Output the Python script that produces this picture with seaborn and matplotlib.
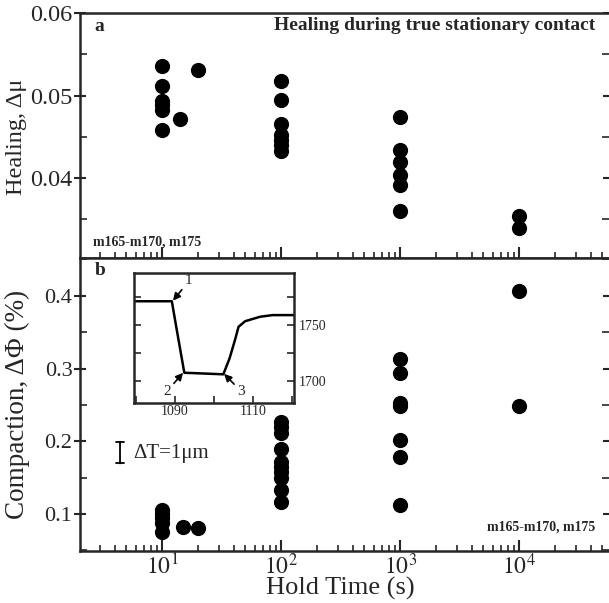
import numpy as np
import pandas as pd
import matplotlib
matplotlib.use("Agg")
import matplotlib.pyplot as plt
from matplotlib.ticker import MultipleLocator, LogLocator, NullFormatter
import seaborn as sns

# ---------------------------------
# data
# ---------------------------------
heal_time = [10, 10, 10, 10, 10, 10, 14, 20,
             100, 100, 100, 100, 100, 100, 100,
             1000, 1000, 1000, 1000, 1000, 1000,
             10000, 10000]
heal_mu = [0.0536, 0.0512, 0.0493, 0.0489, 0.0482, 0.0458, 0.0471, 0.0531,
           0.0517, 0.0495, 0.0465, 0.0452, 0.0446, 0.0440, 0.0433,
           0.0474, 0.0434, 0.0420, 0.0404, 0.0392, 0.0360,
           0.0354, 0.0339]

comp_time = [10, 10, 10, 10, 10, 15, 20,
             100, 100, 100, 100, 100, 100, 100, 100, 100, 100,
             1000, 1000, 1000, 1000, 1000, 1000, 1000,
             10000, 10000]
comp_phi = [0.105, 0.100, 0.095, 0.088, 0.075, 0.082, 0.080,
            0.227, 0.220, 0.211, 0.190, 0.172, 0.165, 0.158, 0.149, 0.133, 0.117,
            0.313, 0.294, 0.253, 0.248, 0.202, 0.179, 0.112,
            0.407, 0.248]

# inset trace (time vs. layer thickness)
inset_t = [1079.5, 1089.2, 1090.5, 1092.4, 1096.0, 1102.4, 1104.0, 1105.5,
           1106.3, 1108.0, 1111.8, 1115.0, 1120.5]
inset_T = [1771.5, 1771.5, 1745.0, 1707.0, 1706.5, 1705.6, 1720.0, 1738.0,
           1748.5, 1753.5, 1757.5, 1759.0, 1759.0]

df_heal = pd.DataFrame({"t": heal_time, "v": heal_mu})
df_comp = pd.DataFrame({"t": comp_time, "v": comp_phi})
df_inset = pd.DataFrame({"t": inset_t, "T": inset_T})

# ---------------------------------
# style
# ---------------------------------
sns.set_style("ticks")
plt.rcParams['font.family'] = ['Liberation Serif', 'DejaVu Serif']
plt.rcParams['mathtext.fontset'] = 'stix'
plt.rcParams['axes.linewidth'] = 1.8

fig = plt.figure(figsize=(6.09, 6.03), dpi=100)
ax_a = fig.add_axes([0.1314, 0.5721, 0.8686, 0.4063])
ax_b = fig.add_axes([0.1314, 0.0862, 0.8686, 0.4859])

marker_kw = dict(color="black", s=120, edgecolor="black", linewidth=0, legend=False)
sns.scatterplot(data=df_heal, x="t", y="v", ax=ax_a, **marker_kw)
sns.scatterplot(data=df_comp, x="t", y="v", ax=ax_b, **marker_kw)

for ax in (ax_a, ax_b):
    ax.set_xscale("log")
    ax.set_xlim(2.04, 5.7e4)
    ax.spines["right"].set_visible(False)
    ax.xaxis.set_major_locator(LogLocator(base=10, numticks=10))
    ax.xaxis.set_minor_locator(LogLocator(base=10, subs=np.arange(2, 10), numticks=20))
    ax.xaxis.set_minor_formatter(NullFormatter())
    ax.tick_params(axis="x", which="major", direction="in", length=8, width=1.5, top=False)
    ax.tick_params(axis="x", which="minor", direction="in", length=4, width=1.2, top=False)
    ax.tick_params(axis="y", which="major", direction="inout", length=8, width=1.5,
                   right=True, labelsize=16, pad=1.5)
    ax.tick_params(axis="y", which="minor", direction="in", length=5, width=1.2, right=True)
    ax.set_xlabel("")
    ax.set_ylabel("")

# panel a
ax_a.set_ylim(0.0303, 0.06)
ax_a.yaxis.set_minor_locator(MultipleLocator(0.005))
ax_a.set_yticks([0.04, 0.05, 0.06])
ax_a.set_yticklabels(["0.04", "0.05", "0.06"])
ax_a.tick_params(axis="y", which="major", labelsize=17.5)
ax_a.tick_params(axis="x", labelbottom=False)
ax_a.set_ylabel("Healing, Δμ", fontsize=17.5)
ax_a.yaxis.set_label_coords(-0.1, 0.494)
ax_a.text(0.028, 0.943, "a", transform=ax_a.transAxes, fontsize=14,
          fontweight="bold", va="center", ha="left")
ax_a.text(0.9735, 0.951, "Healing during true stationary contact", transform=ax_a.transAxes,
          fontsize=14, fontweight="bold", va="center", ha="right")
ax_a.text(0.0246, 0.065, "m165-m170, m175", transform=ax_a.transAxes,
          fontsize=10, fontweight="bold", va="center", ha="left")

# panel b
ax_b.set_ylim(0.049, 0.452)
ax_b.set_yticks([0.1, 0.2, 0.3, 0.4])
ax_b.set_yticklabels(["0.1", "0.2", "0.3", "0.4"])
ax_b.yaxis.set_minor_locator(MultipleLocator(0.05))
ax_b.tick_params(axis="x", which="major", labelsize=17, pad=2)
ax_b.set_xticks([10, 100, 1000, 10000])
ax_b.set_xticklabels(["$10^1$", "$10^2$", "$10^3$", "$10^4$"])
ax_b.set_xlim(2.04, 5.7e4)
ax_b.set_ylabel("Compaction, ΔΦ (%)", fontsize=19.5)
ax_b.yaxis.set_label_coords(-0.095, 0.5)
ax_b.set_xlabel("Hold Time (s)", fontsize=19)
ax_b.xaxis.set_label_coords(0.493, -0.088)
ax_b.text(0.028, 0.959, "b", transform=ax_b.transAxes, fontsize=14,
          fontweight="bold", va="center", ha="left")
ax_b.text(0.9735, 0.082, "m165-m170, m175", transform=ax_b.transAxes,
          fontsize=10, fontweight="bold", va="center", ha="right")

# scale bar
ax_b.annotate("", xy=(0.0756, 0.373), xytext=(0.0756, 0.299), xycoords="axes fraction",
              arrowprops=dict(arrowstyle="|-|, widthA=0.3, widthB=0.3", lw=1.3, color="black",
                              shrinkA=0, shrinkB=0))
ax_b.text(0.1, 0.334, "ΔT=1μm", transform=ax_b.transAxes, fontsize=15,
          va="center", ha="left")

# inset
ax_in = fig.add_axes([0.22, 0.3322, 0.2627, 0.2151])
sns.lineplot(data=df_inset, x="t", y="T", ax=ax_in, color="black", lw=1.8,
             estimator=None, sort=False)
ax_in.set_xlim(1079.5, 1120.5)
ax_in.set_ylim(1680, 1797)
ax_in.set_xlabel("")
ax_in.set_ylabel("")
ax_in.set_xticks([1090, 1110])
ax_in.xaxis.set_minor_locator(MultipleLocator(10))
ax_in.set_yticks([1700, 1750])
ax_in.yaxis.set_minor_locator(MultipleLocator(25))
ax_in.yaxis.tick_right()
ax_in.tick_params(axis="both", which="both", direction="in", labelsize=10,
                  left=True, right=True, bottom=True, top=False, width=1.2, length=5)
ax_in.tick_params(axis="x", pad=2)
for s in ax_in.spines.values():
    s.set_linewidth(1.8)

arrow_kw = dict(arrowstyle="-|>,head_width=0.2,head_length=0.4", lw=1.2, color="black",
                shrinkA=0, shrinkB=0)
ax_in.annotate("1", xy=(1089.5, 1772), xytext=(1092.6, 1784),
               arrowprops=arrow_kw, fontsize=11, ha="left", va="bottom")
ax_in.annotate("2", xy=(1092.1, 1707), xytext=(1088.9, 1696),
               arrowprops=arrow_kw, fontsize=11, ha="right", va="top")
ax_in.annotate("3", xy=(1102.6, 1706), xytext=(1106.0, 1696),
               arrowprops=arrow_kw, fontsize=11, ha="left", va="top")

fig.savefig("out.png", dpi=100)
